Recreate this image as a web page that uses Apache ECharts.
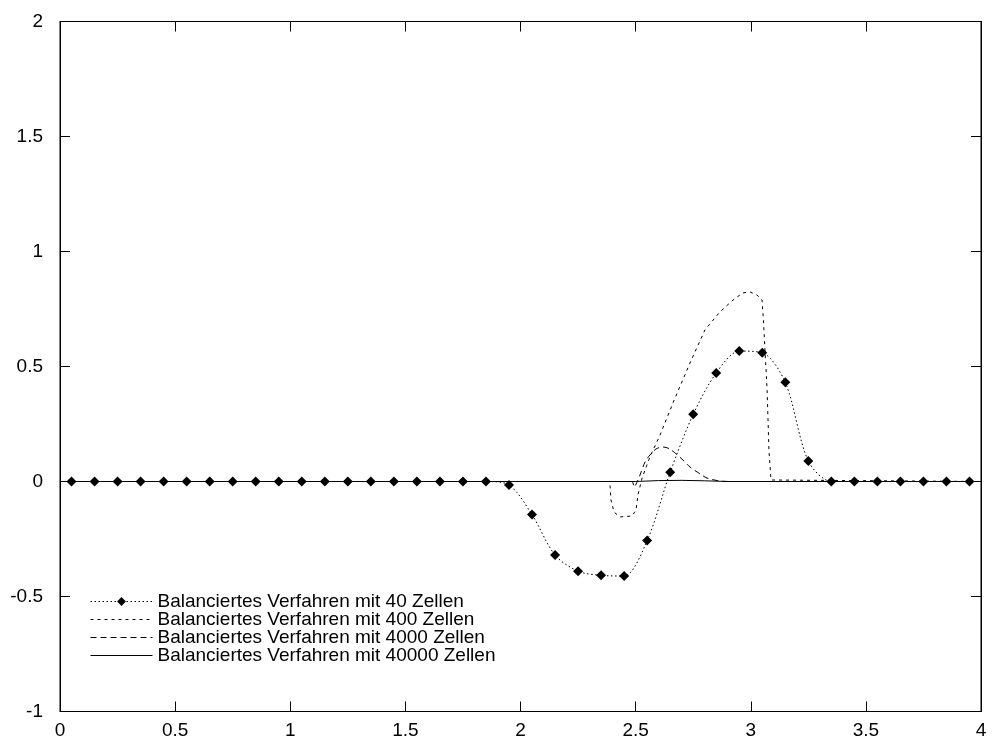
<!DOCTYPE html>
<html>
<head>
<meta charset="utf-8">
<script src="https://cdn.jsdelivr.net/npm/echarts@6/dist/echarts.min.js"></script>
<style>
  html, body { margin: 0; padding: 0; background: #fff; }
  #chart { width: 994px; height: 746px; }
</style>
</head>
<body>
<div id="chart"></div>
<script>
// Achsen
var xTicks = [0, 0.5, 1, 1.5, 2, 2.5, 3, 3.5, 4];
var yTicks = [-1, -0.5, 0, 0.5, 1, 1.5, 2];

// 40 Zellen (Zellmitten)
var x40 = [0.05, 0.15, 0.25, 0.35, 0.45, 0.55, 0.65, 0.75, 0.85, 0.95,
           1.05, 1.15, 1.25, 1.35, 1.45, 1.55, 1.65, 1.75, 1.85, 1.95,
           2.05, 2.15, 2.25, 2.35, 2.45, 2.55, 2.65, 2.75, 2.85, 2.95,
           3.05, 3.15, 3.25, 3.35, 3.45, 3.55, 3.65, 3.75, 3.85, 3.95];
var y40 = [0, 0, 0, 0, 0, 0, 0, 0, 0, 0,
           0, 0, 0, 0, 0, 0, 0, 0, 0, -0.015,
           -0.144, -0.32, -0.39, -0.408, -0.411, -0.257, 0.04, 0.292, 0.472, 0.567,
           0.56, 0.431, 0.089, 0, 0, 0, 0, 0, 0, 0];

// 400 Zellen
var x400 = [0, 2.384, 2.389, 2.393, 2.406, 2.432, 2.484, 2.502, 2.510, 2.528,
            2.562, 2.606, 2.662, 2.736, 2.801, 2.866, 2.923, 2.966, 2.997, 3.027,
            3.049, 3.055, 3.071, 3.079, 3.088, 3.092, 4];
var y400 = [0, 0, -0.02, -0.08, -0.133, -0.154, -0.15, -0.124, -0.059, 0.015,
            0.107, 0.202, 0.341, 0.515, 0.659, 0.737, 0.789, 0.820, 0.824, 0.811,
            0.789, 0.702, 0.398, 0.137, 0.0065, 0, 0];

// 4000 Zellen
var x4000 = [0, 2.484, 2.493, 2.502, 2.519, 2.541, 2.562, 2.588, 2.619, 2.649,
             2.706, 2.736, 2.780, 2.810, 2.866, 2.91, 4];
var y4000 = [0, 0, -0.024, -0.011, 0.028, 0.085, 0.115, 0.141, 0.15, 0.141,
             0.093, 0.063, 0.033, 0.015, 0.002, 0, 0];

// 40000 Zellen
var x40000 = [0, 2.5, 2.6, 2.7, 2.8, 2.9, 4];
var y40000 = [0, 0, 0.004, 0.005, 0.003, 0, 0];

var names = ['Balanciertes Verfahren mit 40 Zellen',
             'Balanciertes Verfahren mit 400 Zellen',
             'Balanciertes Verfahren mit 4000 Zellen',
             'Balanciertes Verfahren mit 40000 Zellen'];

function pairs(xs, ys) {
  var out = [];
  for (var i = 0; i < xs.length; i++) out.push([xs[i], ys[i]]);
  return out;
}

var font = 'Liberation Sans, Arial, Helvetica, sans-serif';
var labelFmt = function (v) { return String(Math.round(v * 10) / 10); };
var noMark = { color: 'rgba(0,0,0,0)', borderWidth: 0, opacity: 0 };

var axisCommon = {
  type: 'value',
  axisLine: { show: true, onZero: false, lineStyle: { color: '#000', width: 1 } },
  axisTick: { show: true, inside: true, length: 10, lineStyle: { color: '#000' } },
  splitLine: { show: false }
};

var chart = echarts.init(document.getElementById('chart'));
chart.setOption({
  animation: false,
  backgroundColor: '#fff',
  grid: { left: 60, right: 13, top: 21.5, bottom: 34.5, show: true, borderColor: '#000', borderWidth: 1 },
  legend: {
    orient: 'vertical',
    left: 85,
    top: 587,
    itemWidth: 62,
    itemHeight: 11,
    itemGap: -1,
    lineStyle: { width: 1 },
    data: [
      { name: names[0] },
      { name: names[1], itemStyle: noMark },
      { name: names[2], itemStyle: noMark },
      { name: names[3], itemStyle: noMark }
    ],
    textStyle: { color: '#000', fontSize: 19, fontFamily: font, lineHeight: 17.2 }
  },
  xAxis: [
    Object.assign({}, axisCommon, {
      position: 'bottom', min: xTicks[0], max: xTicks[xTicks.length - 1], interval: 0.5,
      axisLabel: { color: '#000', fontSize: 19, fontFamily: font, margin: 10, formatter: labelFmt }
    }),
    Object.assign({}, axisCommon, {
      position: 'top', min: xTicks[0], max: xTicks[xTicks.length - 1], interval: 0.5,
      axisLabel: { show: false }
    })
  ],
  yAxis: [
    Object.assign({}, axisCommon, {
      position: 'left', min: yTicks[0], max: yTicks[yTicks.length - 1], interval: 0.5,
      axisLabel: { color: '#000', fontSize: 19, fontFamily: font, margin: 17, formatter: labelFmt }
    }),
    Object.assign({}, axisCommon, {
      position: 'right', min: yTicks[0], max: yTicks[yTicks.length - 1], interval: 0.5,
      axisLabel: { show: false }
    })
  ],
  series: [
    {
      name: names[0], type: 'line', data: pairs(x40, y40),
      smooth: 0.3, symbol: 'diamond', symbolSize: 10, showSymbol: true,
      itemStyle: { color: '#000' },
      lineStyle: { color: '#000', width: 1, type: [1.5, 2.5] }
    },
    {
      name: names[1], type: 'line', data: pairs(x400, y400),
      showSymbol: false, symbol: 'none', itemStyle: { color: '#000' },
      lineStyle: { color: '#000', width: 1, type: [3, 4] }
    },
    {
      name: names[2], type: 'line', data: pairs(x4000, y4000),
      smooth: 0.3, showSymbol: false, symbol: 'none', itemStyle: { color: '#000' },
      lineStyle: { color: '#000', width: 1, type: [6, 4] }
    },
    {
      name: names[3], type: 'line', data: pairs(x40000, y40000),
      showSymbol: false, symbol: 'none', itemStyle: { color: '#000' },
      lineStyle: { color: '#000', width: 1 }
    }
  ]
});
</script>
</body>
</html>
